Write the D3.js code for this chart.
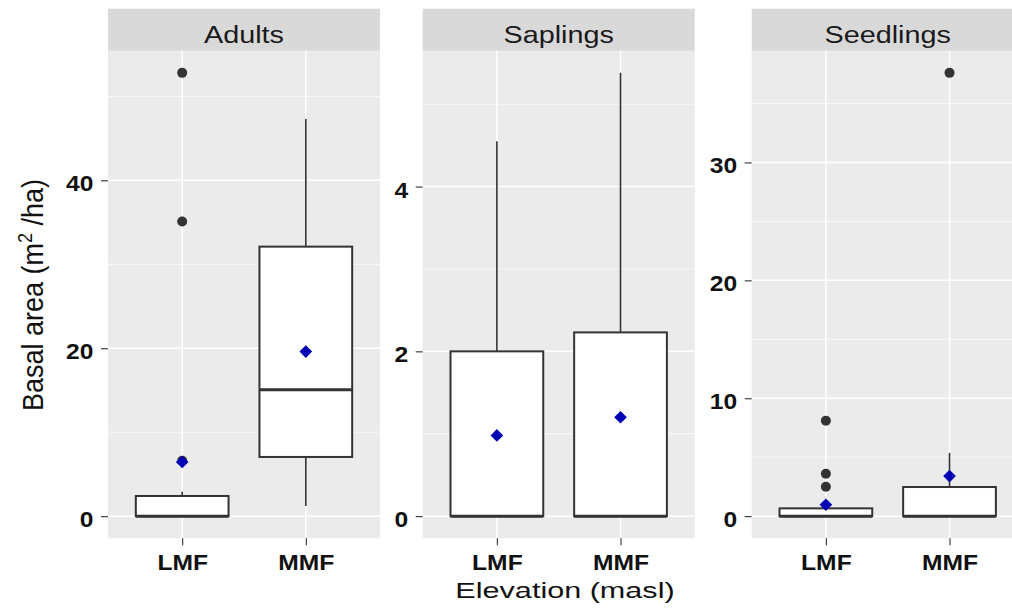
<!DOCTYPE html>
<html>
<head>
<meta charset="utf-8">
<script src="https://cdn.jsdelivr.net/npm/d3@7"></script>
<style>
  html, body { margin: 0; padding: 0; background: #fff; }
  svg { display: block; }
  text { font-family: "Liberation Sans", Arial, sans-serif; }
</style>
</head>
<body>
<svg id="chart" width="1012" height="608"></svg>
<script>
// ---- data ----------------------------------------------------------------
const facets = ["Adults", "Saplings", "Seedlings"];
const categories = ["LMF", "MMF"];

// five-number summaries per facet, one entry per category: [lower, q1, median, q3, upper]
const adultsBox    = [[0, 0, 0, 2.4, 2.9],   [1.2, 7.05, 15.05, 32.1, 47.3]];
const saplingsBox  = [[0, 0, 0, 2.0, 4.55],  [0, 0, 0, 2.23, 5.38]];
const seedlingsBox = [[0, 0, 0, 0.66, 1.3],  [0, 0, 0, 2.47, 5.36]];

// group means (blue diamonds)
const adultsMean    = [6.45, 19.6];
const saplingsMean  = [0.98, 1.20];
const seedlingsMean = [0.97, 3.4];

// outlying observations
const adultsOut    = [[6.6, 35.1, 52.8], []];
const saplingsOut  = [[], []];
const seedlingsOut = [[2.5, 3.6, 8.1], [37.6]];

// y tick labels per facet
const adultsTicks    = [0, 20, 40];
const saplingsTicks  = [0, 2, 4];
const seedlingsTicks = [0, 10, 20, 30];

const boxes    = [adultsBox, saplingsBox, seedlingsBox];
const means    = [adultsMean, saplingsMean, seedlingsMean];
const outliers = [adultsOut, saplingsOut, seedlingsOut];
const ticks    = [adultsTicks, saplingsTicks, seedlingsTicks];

// ---- layout --------------------------------------------------------------
const svg = d3.select("#chart");
const stripTop = 8.7, panelTop = 50.7, panelBottom = 538.3;
const panelLefts = [108, 422.7, 751.7];
const panelW = 272;

const tickFont = 22, tickSX = 1.12;

facets.forEach((name, fi) => {
  const left = panelLefts[fi];
  const g = svg.append("g");

  // y range from every plotted value, expanded 5% each side
  const vals = [];
  boxes[fi].forEach(b => vals.push(...b));
  vals.push(...means[fi]);
  outliers[fi].forEach(o => vals.push(...o));
  const lo = d3.min(vals), hi = d3.max(vals), span = hi - lo;
  const y = d3.scaleLinear()
    .domain([lo - 0.05 * span, hi + 0.05 * span])
    .range([panelBottom, panelTop]);
  const x = d3.scalePoint()
    .domain(categories)
    .range([left, left + panelW])
    .padding(0.6);
  const step = x.step();
  const boxW = 0.75 * step;

  // panel background
  g.append("rect")
    .attr("x", left).attr("y", panelTop)
    .attr("width", panelW).attr("height", panelBottom - panelTop)
    .attr("fill", "#EBEBEB");

  // strip
  g.append("rect")
    .attr("x", left).attr("y", stripTop)
    .attr("width", panelW).attr("height", panelTop - stripTop)
    .attr("fill", "#D9D9D9");
  g.append("text")
    .attr("transform", `translate(${left + panelW / 2},42.7) scale(1.2,1)`)
    .attr("text-anchor", "middle")
    .attr("font-size", 24)
    .attr("fill", "#1A1A1A")
    .text(name);

  // minor grid (midpoints between major ticks)
  const tk = ticks[fi];
  const tstep = tk[1] - tk[0];
  const minor = [];
  for (let v = tk[0] - tstep / 2; v <= y.domain()[1]; v += tstep) {
    if (v >= y.domain()[0]) minor.push(v);
  }
  g.selectAll(".minor").data(minor).enter().append("line")
    .attr("x1", left).attr("x2", left + panelW)
    .attr("y1", d => y(d)).attr("y2", d => y(d))
    .attr("stroke", "#fff").attr("stroke-width", 0.7);

  // major grid
  g.selectAll(".major").data(tk).enter().append("line")
    .attr("x1", left).attr("x2", left + panelW)
    .attr("y1", d => y(d)).attr("y2", d => y(d))
    .attr("stroke", "#fff").attr("stroke-width", 1.5);
  g.selectAll(".vmajor").data(categories).enter().append("line")
    .attr("x1", d => x(d)).attr("x2", d => x(d))
    .attr("y1", panelTop).attr("y2", panelBottom)
    .attr("stroke", "#fff").attr("stroke-width", 1.5);

  // boxplots
  categories.forEach((c, ci) => {
    const [wl, q1, med, q3, wu] = boxes[fi][ci];
    const cx = x(c);
    g.append("line")
      .attr("x1", cx).attr("x2", cx).attr("y1", y(q3)).attr("y2", y(wu))
      .attr("stroke", "#333").attr("stroke-width", 1.6);
    g.append("line")
      .attr("x1", cx).attr("x2", cx).attr("y1", y(q1)).attr("y2", y(wl))
      .attr("stroke", "#333").attr("stroke-width", 1.6);
    g.append("rect")
      .attr("x", cx - boxW / 2).attr("y", y(q3))
      .attr("width", boxW).attr("height", Math.max(0, y(q1) - y(q3)))
      .attr("fill", "#fff").attr("stroke", "#333").attr("stroke-width", 2);
    g.append("line")
      .attr("x1", cx - boxW / 2).attr("x2", cx + boxW / 2)
      .attr("y1", y(med)).attr("y2", y(med))
      .attr("stroke", "#333").attr("stroke-width", 3);

    g.selectAll(null).data(outliers[fi][ci]).enter().append("circle")
      .attr("cx", cx).attr("cy", d => y(d)).attr("r", 5)
      .attr("fill", "#333");

    g.append("path")
      .attr("d", d3.symbol(d3.symbolSquare, 80)())
      .attr("transform", `translate(${cx},${y(means[fi][ci])}) rotate(45)`)
      .attr("fill", "#0000B4");
  });

  // y axis
  const ya = g.append("g")
    .attr("transform", `translate(${left},0)`)
    .call(d3.axisLeft(y).tickValues(tk).tickSize(7).tickFormat(d3.format("d")));
  ya.select(".domain").remove();
  ya.selectAll(".tick line").attr("stroke", "#333").attr("stroke-width", 1.1);
  ya.selectAll(".tick text")
    .attr("x", null).attr("dy", null)
    .attr("transform", `translate(-14.5,10.5) scale(${tickSX},1)`)
    .attr("text-anchor", "end")
    .attr("font-size", tickFont)
    .attr("font-weight", "bold")
    .attr("font-family", "Liberation Sans, Arial, sans-serif")
    .attr("fill", "#111");

  // x axis
  const xa = g.append("g")
    .attr("transform", `translate(0,${panelBottom})`)
    .call(d3.axisBottom(x).tickSize(7));
  xa.select(".domain").remove();
  xa.selectAll(".tick line").attr("stroke", "#333").attr("stroke-width", 1.1);
  xa.selectAll(".tick text")
    .attr("y", null).attr("dy", null)
    .attr("transform", `translate(0,31.7) scale(${tickSX},1)`)
    .attr("text-anchor", "middle")
    .attr("font-size", tickFont)
    .attr("font-weight", "bold")
    .attr("font-family", "Liberation Sans, Arial, sans-serif")
    .attr("fill", "#111");
});

// axis titles
svg.append("text")
  .attr("transform", "translate(565,597.7) scale(1.36,1)")
  .attr("text-anchor", "middle")
  .attr("font-size", 22.5)
  .attr("fill", "#111")
  .text("Elevation (masl)");

const yt = svg.append("text")
  .attr("transform", "translate(43.3,295) scale(1.12,1) rotate(-90)")
  .attr("text-anchor", "middle")
  .attr("font-size", 27)
  .attr("fill", "#111");
yt.append("tspan").text("Basal area (m");
yt.append("tspan").attr("dy", -10).attr("font-size", 18).text("2");
yt.append("tspan").attr("dy", 10).text(" /ha)");
</script>
</body>
</html>
